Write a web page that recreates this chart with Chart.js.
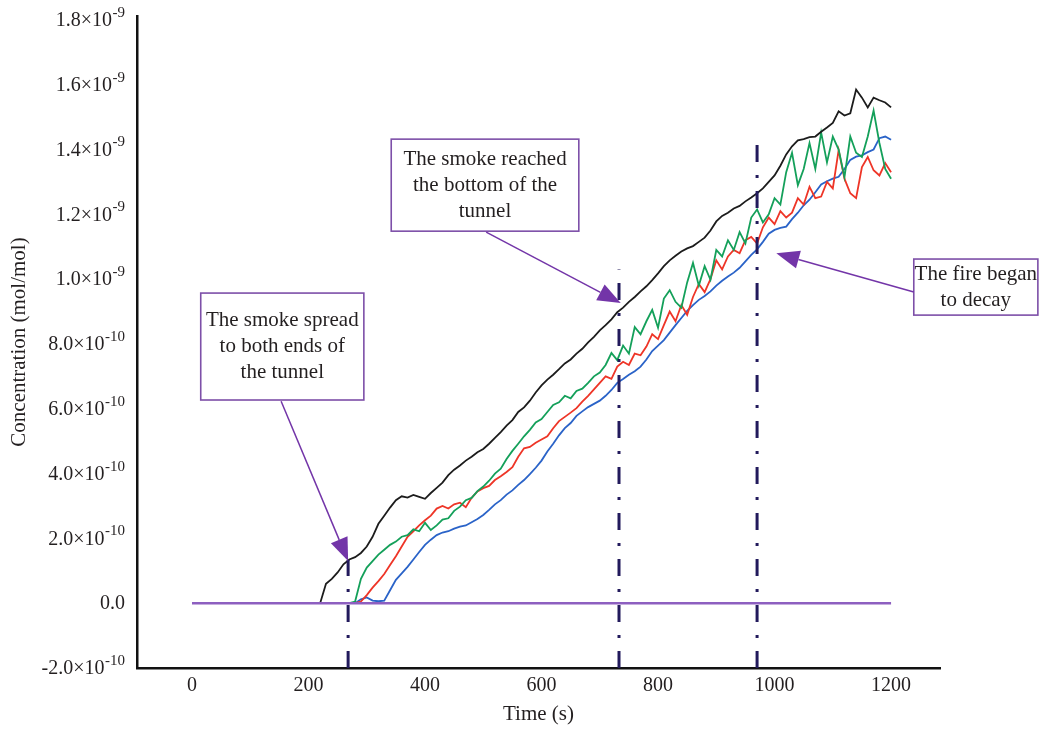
<!DOCTYPE html>
<html>
<head>
<meta charset="utf-8">
<script src="https://cdn.jsdelivr.net/npm/chart.js@4.4.1/dist/chart.umd.min.js"></script>
<style>
  html, body { margin: 0; padding: 0; background: #ffffff; }
  #wrap { width: 1041px; height: 731px; position: relative; }
</style>
</head>
<body>
<div id="wrap"><canvas id="c"></canvas></div>
<script>
// ---------- data (concentration in units of 1e-9 mol/mol) ----------
const times = [
  200,210,220,230,240,250,260,270,280,290,
  300,310,320,330,340,350,360,370,380,390,
  400,410,420,430,440,450,460,470,480,490,
  500,510,520,530,540,550,560,570,580,590,
  600,610,620,630,640,650,660,670,680,690,
  700,710,720,730,740,750,760,770,780,790,
  800,810,820,830,840,850,860,870,880,890,
  900,910,920,930,940,950,960,970,980,990,
  1000,1010,1020,1030,1040,1050,1060,1070,1080,1090,
  1100,1110,1120,1130,1140,1150,1160,1170,1180,1190,
  1200
];
const blackSeries = [
  0,0,0,0.060,0.075,0.095,0.120,0.135,0.142,0.155,
  0.175,0.205,0.245,0.270,0.295,0.318,0.330,0.326,0.334,0.328,
  0.322,0.340,0.356,0.372,0.395,0.412,0.425,0.440,0.452,0.466,
  0.476,0.492,0.510,0.528,0.548,0.565,0.590,0.604,0.625,0.650,
  0.672,0.690,0.705,0.722,0.740,0.752,0.770,0.785,0.805,0.822,
  0.842,0.858,0.876,0.898,0.912,0.930,0.945,0.962,0.978,0.997,
  1.018,1.040,1.058,1.072,1.085,1.095,1.102,1.115,1.128,1.150,
  1.178,1.195,1.205,1.218,1.226,1.240,1.252,1.265,1.280,1.300,
  1.320,1.350,1.385,1.410,1.428,1.432,1.438,1.440,1.455,1.468,
  1.482,1.518,1.505,1.512,1.585,1.560,1.530,1.560,1.552,1.545,
  1.530
];
const greenSeries = [
  0,0,0,0,0,0,0,0,0.005,0.075,
  0.110,0.130,0.150,0.165,0.180,0.190,0.205,0.210,0.228,0.222,
  0.248,0.226,0.240,0.258,0.262,0.285,0.298,0.318,0.325,0.346,
  0.360,0.378,0.400,0.415,0.445,0.470,0.492,0.515,0.535,0.558,
  0.568,0.590,0.612,0.620,0.640,0.632,0.655,0.662,0.680,0.700,
  0.712,0.735,0.772,0.750,0.795,0.770,0.852,0.830,0.870,0.905,
  0.850,0.940,0.966,0.930,0.912,0.990,1.050,0.980,1.040,0.998,
  1.090,1.070,1.120,1.090,1.145,1.110,1.190,1.215,1.175,1.200,
  1.250,1.230,1.330,1.390,1.290,1.340,1.420,1.340,1.452,1.360,
  1.440,1.400,1.315,1.440,1.390,1.377,1.440,1.520,1.420,1.340,
  1.310
];
const redSeries = [
  0,0,0,0,0,0,0,0,0,0.005,
  0.025,0.048,0.068,0.090,0.118,0.145,0.175,0.205,0.222,0.240,
  0.256,0.270,0.292,0.300,0.292,0.305,0.310,0.296,0.325,0.345,
  0.355,0.362,0.380,0.392,0.405,0.420,0.452,0.478,0.482,0.495,
  0.505,0.515,0.540,0.562,0.575,0.588,0.602,0.622,0.640,0.660,
  0.680,0.700,0.692,0.730,0.745,0.735,0.770,0.765,0.792,0.830,
  0.815,0.858,0.900,0.870,0.920,0.890,0.945,0.985,0.960,1.000,
  1.058,1.030,1.070,1.090,1.080,1.120,1.130,1.110,1.160,1.190,
  1.170,1.210,1.190,1.205,1.250,1.230,1.285,1.250,1.255,1.300,
  1.280,1.398,1.310,1.265,1.250,1.346,1.377,1.336,1.320,1.358,
  1.330
];
const blueSeries = [
  0,0,0,0,0,0,0,0,0,0.012,
  0.018,0.008,0.006,0.008,0.040,0.072,0.092,0.112,0.135,0.158,
  0.180,0.196,0.210,0.218,0.222,0.230,0.236,0.240,0.250,0.260,
  0.272,0.288,0.305,0.318,0.335,0.348,0.365,0.380,0.398,0.418,
  0.440,0.468,0.492,0.518,0.540,0.556,0.578,0.592,0.605,0.615,
  0.625,0.640,0.658,0.680,0.692,0.705,0.716,0.730,0.752,0.778,
  0.795,0.812,0.835,0.858,0.880,0.902,0.920,0.936,0.948,0.962,
  0.980,0.995,1.008,1.020,1.035,1.055,1.075,1.092,1.115,1.140,
  1.152,1.158,1.162,1.185,1.205,1.228,1.245,1.268,1.292,1.302,
  1.310,1.316,1.340,1.368,1.378,1.382,1.392,1.400,1.435,1.440,
  1.430
];
const zeroLineTimes = [0, 1200];
const zeroLineValues = [0, 0];
const eventTimes = [268, 733, 970];
const eventTops = [0.133, 1.03, 1.414];
const xTicks = [0, 200, 400, 600, 800, 1000, 1200];
const yTicks = [-0.2, 0, 0.2, 0.4, 0.6, 0.8, 1.0, 1.2, 1.4, 1.6, 1.8];
const yTickMain = ['-2.0\u00d710', '0.0', '2.0\u00d710', '4.0\u00d710', '6.0\u00d710', '8.0\u00d710', '1.0\u00d710', '1.2\u00d710', '1.4\u00d710', '1.6\u00d710', '1.8\u00d710'];
const yTickExp = ['-10', '', '-10', '-10', '-10', '-10', '-9', '-9', '-9', '-9', '-9'];
const xTitle = 'Time (s)';
const yTitle = 'Concentration (mol/mol)';
const noteTexts = [
  ['The smoke spread', 'to both ends of', 'the tunnel'],
  ['The smoke reached', 'the bottom of the', 'tunnel'],
  ['The fire began', 'to decay']
];

// ---------- layout / style (not data) ----------
const Y_MIN = -0.2;
const notePlacement = [
  { box: [15, 0.957, 295, 0.627], from: [153, 0.623], to: [268, 0.130] },
  { box: [342, 1.432, 664, 1.148], from: [505, 1.145], to: [736, 0.926] },
  { box: [1239, 1.062, 1452, 0.889], from: [1239, 0.960], to: [1003, 1.080] }
];
const SERIF = '"Liberation Serif", "DejaVu Serif", serif';
const TEXT_COLOR = '#231f20';
const PURPLE = '#7d4fa8';

const pts = (xs, ys) => xs.map((t, i) => ({ x: t, y: ys[i] }));

const datasets = [];
eventTimes.forEach((t, i) => {
  datasets.push({
    data: [{ x: t, y: Y_MIN }, { x: t, y: eventTops[i] }],
    borderColor: '#221a5c', borderWidth: 3, borderDash: [17, 13, 3, 13],
    pointRadius: 0, order: 0
  });
});
datasets.push({ data: pts(zeroLineTimes, zeroLineValues), borderColor: '#8d5fc0', borderWidth: 2.5, pointRadius: 0, order: 1 });
datasets.push({ data: pts(times, blueSeries), borderColor: '#2a63c8', borderWidth: 1.8, pointRadius: 0, order: 5 });
datasets.push({ data: pts(times, redSeries), borderColor: '#ee3527', borderWidth: 1.8, pointRadius: 0, order: 4 });
datasets.push({ data: pts(times, greenSeries), borderColor: '#14a05a', borderWidth: 1.8, pointRadius: 0, order: 3 });
datasets.push({ data: pts(times, blackSeries), borderColor: '#1c1c1c', borderWidth: 1.8, pointRadius: 0, order: 2 });

const drawPlugin = {
  id: 'extras',
  afterDraw(chart) {
    const { ctx, scales: { x, y } } = chart;
    ctx.save();
    // y tick labels with superscript exponent
    const right = x.left - 12;
    yTicks.forEach((v, i) => {
      const py = y.getPixelForValue(v);
      ctx.fillStyle = TEXT_COLOR;
      ctx.textBaseline = 'middle';
      ctx.textAlign = 'right';
      let mainRight = right;
      if (yTickExp[i]) {
        ctx.font = '15px ' + SERIF;
        const w = ctx.measureText(yTickExp[i]).width;
        ctx.fillText(yTickExp[i], right, py - 7);
        mainRight = right - w - 0.5;
      }
      ctx.font = '20px ' + SERIF;
      ctx.fillText(yTickMain[i], mainRight, py + 1);
    });
    // annotation boxes and arrows
    noteTexts.forEach((lines, k) => {
      const p = notePlacement[k];
      const x1 = x.getPixelForValue(p.box[0]), y1 = y.getPixelForValue(p.box[1]);
      const x2 = x.getPixelForValue(p.box[2]), y2 = y.getPixelForValue(p.box[3]);
      ctx.fillStyle = '#ffffff';
      ctx.fillRect(x1, y1, x2 - x1, y2 - y1);
      ctx.strokeStyle = PURPLE;
      ctx.lineWidth = 1.6;
      ctx.strokeRect(x1, y1, x2 - x1, y2 - y1);
      ctx.fillStyle = TEXT_COLOR;
      ctx.font = '21px ' + SERIF;
      ctx.textAlign = 'center';
      ctx.textBaseline = 'middle';
      const cx = (x1 + x2) / 2, cy = (y1 + y2) / 2;
      const lh = 26;
      lines.forEach((ln, j) => {
        ctx.fillText(ln, cx, cy + (j - (lines.length - 1) / 2) * lh);
      });
      // arrow
      const fx = x.getPixelForValue(p.from[0]), fy = y.getPixelForValue(p.from[1]);
      const tx = x.getPixelForValue(p.to[0]), ty = y.getPixelForValue(p.to[1]);
      const ang = Math.atan2(ty - fy, tx - fx);
      const L = 23, W = 9;
      const bx = tx - L * Math.cos(ang), by = ty - L * Math.sin(ang);
      ctx.strokeStyle = '#7335a8';
      ctx.lineWidth = 1.5;
      ctx.beginPath(); ctx.moveTo(fx, fy); ctx.lineTo(bx, by); ctx.stroke();
      ctx.fillStyle = '#7335a8';
      ctx.beginPath();
      ctx.moveTo(tx, ty);
      ctx.lineTo(bx + W * Math.sin(ang), by - W * Math.cos(ang));
      ctx.lineTo(bx - W * Math.sin(ang), by + W * Math.cos(ang));
      ctx.closePath(); ctx.fill();
    });
    ctx.restore();
  }
};

new Chart(document.getElementById('c'), {
  type: 'line',
  data: { datasets },
  plugins: [drawPlugin],
  options: {
    responsive: true,
    maintainAspectRatio: false,
    animation: false,
    events: [],
    layout: { padding: { top: 16, right: 101, left: 0, bottom: 0 } },
    plugins: { legend: { display: false }, tooltip: { enabled: false } },
    elements: { line: { tension: 0 } },
    scales: {
      x: {
        type: 'linear', min: -94.4, max: 1284,
        grid: { display: false, drawTicks: false },
        border: { display: true, color: '#111111', width: 2.5 },
        ticks: { font: { family: SERIF, size: 20 }, color: TEXT_COLOR, padding: 6, maxRotation: 0, callback: v => String(v) },
        afterBuildTicks: s => { s.ticks = xTicks.map(v => ({ value: v })); },
        afterFit: s => { s.height = 63; },
        title: { display: true, text: xTitle, color: TEXT_COLOR, font: { family: SERIF, size: 21 }, padding: { top: 0, bottom: 4 } }
      },
      y: {
        type: 'linear', min: Y_MIN, max: 1.812,
        grid: { display: false, drawTicks: false },
        border: { display: true, color: '#111111', width: 2.5 },
        ticks: { display: false },
        afterBuildTicks: s => { s.ticks = yTicks.map(v => ({ value: v })); },
        afterFit: s => { s.width = 137; },
        title: { display: true, text: yTitle, color: TEXT_COLOR, font: { family: SERIF, size: 21 }, padding: { top: 7, bottom: 0 } }
      }
    }
  }
});
</script>
</body>
</html>
